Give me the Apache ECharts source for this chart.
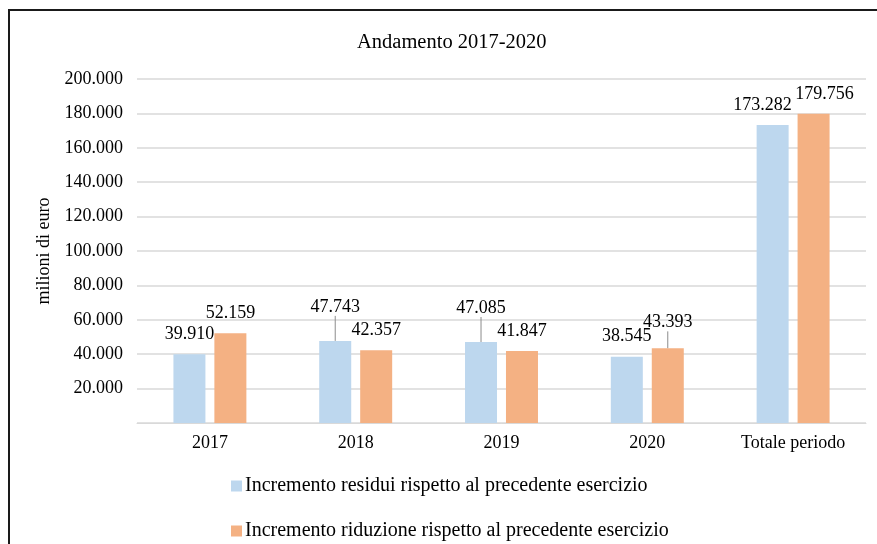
<!DOCTYPE html>
<html>
<head>
<meta charset="utf-8">
<script src="https://cdn.jsdelivr.net/npm/echarts@6/dist/echarts.min.js"></script>
<style>
  html, body { margin: 0; padding: 0; background: #fff; }
  #chart { width: 877px; height: 544px; }
</style>
</head>
<body>
<div id="chart"></div>
<script>
const categories = ["2017", "2018", "2019", "2020", "Totale periodo"];
const residui = [39910, 47743, 47085, 38545, 173282];
const riduzione = [52159, 42357, 41847, 43393, 179756];
const seriesNames = [
  "Incremento residui rispetto al precedente esercizio",
  "Incremento riduzione rispetto al precedente esercizio",
];

// label nudges (seriesIndex-dataIndex) and which ones get a leader line
const labelShift = {
  "0-1": [0, -14],
  "0-2": [0, -14],
  "1-3": [0, -6],
  "0-4": [-10, 0],
  "1-4": [11, 0],
};
const leaderLines = ["0-1", "0-2", "1-3"];

const FONT = "Liberation Serif";

function fmt(v) {
  return String(v).replace(/\B(?=(\d{3})+(?!\d))/g, ".");
}

function buildData(values, sIdx) {
  return values.map((v, i) => {
    const key = sIdx + "-" + i;
    if (leaderLines.includes(key)) {
      return { value: v, labelLine: { show: true } };
    }
    return v;
  });
}

function barSeries(name, values, sIdx, color) {
  return {
    name: name,
    type: "bar",
    barWidth: 32,
    barGap: "28%",
    data: buildData(values, sIdx),
    itemStyle: { color: color },
    label: {
      show: true,
      position: "top",
      distance: 11,
      fontFamily: FONT,
      fontSize: 18,
      color: "#000",
      formatter: (p) => fmt(p.value),
    },
    labelLine: {
      show: false,
      lineStyle: { color: "#8c8c8c", width: 1 },
    },
    labelLayout: function (params) {
      const s = labelShift[sIdx + "-" + params.dataIndex];
      if (!s) return {};
      return { dx: s[0], dy: s[1] };
    },
  };
}

function legendFor(name, top) {
  return {
    left: 231,
    top: top,
    padding: 0,
    itemWidth: 11,
    itemHeight: 11,
    itemGap: 0,
    icon: "rect",
    data: [name],
    textStyle: { fontFamily: FONT, fontSize: 20, color: "#000", padding: [0, 0, 0, -2] },
  };
}

const chart = echarts.init(document.getElementById("chart"));
chart.setOption({
  animation: false,
  textStyle: { fontFamily: FONT },
  title: {
    text: "Andamento 2017-2020",
    left: 352,
    top: 27,
    textStyle: { fontFamily: FONT, fontSize: 20.5, fontWeight: "normal", color: "#000" },
  },
  graphic: [
    {
      type: "polyline",
      shape: { points: [[9, 544], [9, 10], [877, 10]] },
      style: { stroke: "#1a1a1a", lineWidth: 2, fill: null },
    },
  ],
  grid: { left: 137, right: 11, top: 79, bottom: 121 },
  legend: [legendFor(seriesNames[0], 476), legendFor(seriesNames[1], 521)],
  xAxis: {
    type: "category",
    data: categories,
    axisLine: { lineStyle: { color: "#d9d9d9" } },
    axisTick: { show: false },
    axisLabel: { fontFamily: FONT, fontSize: 18, color: "#000", margin: 11 },
  },
  yAxis: {
    type: "value",
    min: 0,
    max: 200000,
    interval: 20000,
    name: "milioni di euro",
    nameLocation: "middle",
    nameGap: 74,
    nameTextStyle: { fontFamily: FONT, fontSize: 18, color: "#000" },
    axisLine: { show: false },
    axisTick: { show: false },
    axisLabel: {
      fontFamily: FONT,
      fontSize: 18,
      color: "#000",
      margin: 14,
      formatter: (v) => (v === 0 ? "" : fmt(v)),
    },
    splitLine: { lineStyle: { color: "#d9d9d9", width: 1.5 } },
  },
  series: [
    barSeries(seriesNames[0], residui, 0, "#BDD7EE"),
    barSeries(seriesNames[1], riduzione, 1, "#F4B183"),
  ],
});
</script>
</body>
</html>
